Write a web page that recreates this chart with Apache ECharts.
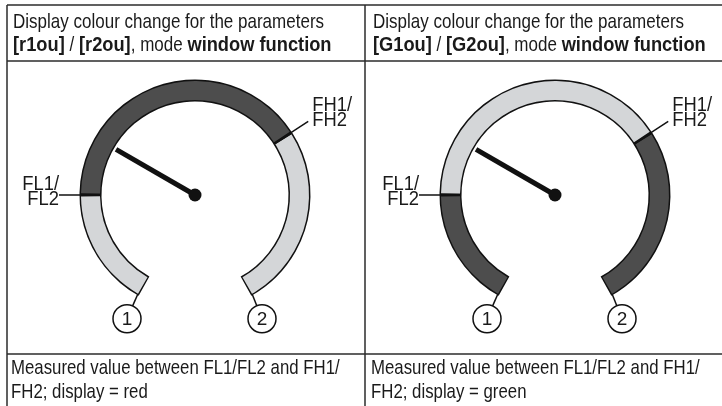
<!DOCTYPE html>
<html>
<head>
<meta charset="utf-8">
<script src="https://cdn.jsdelivr.net/npm/echarts@6/dist/echarts.min.js"></script>
<style>
html, body { margin: 0; padding: 0; background: #fff; }
#chart { width: 722px; height: 406px; }
</style>
</head>
<body>
<div id="chart"></div>
<script>
// scale of both dials
const scaleMin = 0
const scaleMax = 100
// switch points on the scale
const lowLimit = 20    // FL1/FL2
const highLimit = 69   // FH1/FH2
// needle position per panel
const measured = [30, 30]
// band colours per panel: below FL, window, above FH
const bandColours = [
    ['#d4d6d8', '#4d4d4d', '#d4d6d8'],
    ['#4d4d4d', '#d4d6d8', '#4d4d4d']
]
const paramNames = [['[r1ou]', '[r2ou]'], ['[G1ou]', '[G2ou]']]
const displayColours = ['red', 'green']
const lowLabel = ['FL1/', 'FL2']
const highLabel = ['FH1/', 'FH2']
const endLabels = ['1', '2']

const FONT = '"Liberation Sans", Arial, sans-serif'
const INK = '#1a1a1a'
const NARROW = 0.81       // the source uses a condensed face
const NARROW_BOLD = 0.87
const START = 240, END = -60
const R = 114, BAND = 19
const centers = [[195, 195], [555, 195]]

const chart = echarts.init(document.getElementById('chart'))
const ctx = document.createElement('canvas').getContext('2d')
const textWidth = (t, font) => { ctx.font = font; return ctx.measureText(t).width }

// value -> point on a circle of the dial
const pt = (c, r, v) => {
    const a = (START - (v - scaleMin) / (scaleMax - scaleMin) * (START - END)) * Math.PI / 180
    return [c[0] + r * Math.cos(a), c[1] - r * Math.sin(a)]
}

const series = []
const graphic = []

// table lines
const tableLines = [
    [7, 5, 722, 5], [7, 61, 722, 61], [7, 354, 722, 354],
    [7, 5, 7, 406], [365, 5, 365, 406]
]
tableLines.forEach(l => graphic.push({
    type: 'line', shape: { x1: l[0], y1: l[1], x2: l[2], y2: l[3] },
    style: { stroke: '#2b2b2b', lineWidth: 1.5 }
}))

centers.forEach((c, i) => {
    const e = 0.0025
    const cols = bandColours[i]
    const f1 = (lowLimit - scaleMin) / (scaleMax - scaleMin)
    const f2 = (highLimit - scaleMin) / (scaleMax - scaleMin)
    const off = { axisTick: { show: false }, splitLine: { show: false }, axisLabel: { show: false },
        title: { show: false }, detail: { show: false } }
    // black outline under the band
    series.push(Object.assign({
        type: 'gauge', center: c, radius: R + 1.5, min: scaleMin, max: scaleMax,
        startAngle: START + 0.8, endAngle: END - 0.8,
        axisLine: { lineStyle: { width: BAND + 3, color: [[1, '#111']] } },
        pointer: { show: false }, anchor: { show: false }, data: []
    }, off))
    // coloured band with the needle
    series.push(Object.assign({
        type: 'gauge', center: c, radius: R, min: scaleMin, max: scaleMax,
        startAngle: START, endAngle: END,
        axisLine: { lineStyle: { width: BAND, color: [
            [f1 - e, cols[0]], [f1 + e, '#111'], [f2 - e, cols[1]], [f2 + e, '#111'], [1, cols[2]]
        ] } },
        pointer: { show: true, icon: 'rect', length: '80%', width: 5, itemStyle: { color: '#111' } },
        anchor: { show: true, size: 13, showAbove: true, itemStyle: { color: '#111' } },
        data: [{ value: measured[i] }]
    }, off))

    // FL leader + label
    const a1 = pt(c, R, lowLimit), a2 = pt(c, R + 22, lowLimit)
    graphic.push({ type: 'line', shape: { x1: a1[0], y1: a1[1], x2: a2[0], y2: a2[1] },
        style: { stroke: '#111', lineWidth: 1.5 } })
    graphic.push({ type: 'text', x: a2[0], y: a2[1] - 18, scaleX: 0.92, style: {
        text: lowLabel.join('\n'), font: '20px ' + FONT, fill: INK, align: 'right',
        lineHeight: 15 } })
    // FH leader + label
    const b1 = pt(c, R, highLimit), b2 = pt(c, R + 21, highLimit)
    graphic.push({ type: 'line', shape: { x1: b1[0], y1: b1[1], x2: b2[0], y2: b2[1] },
        style: { stroke: '#111', lineWidth: 1.5 } })
    graphic.push({ type: 'text', x: b2[0] + 4, y: b2[1] - 23, scaleX: 0.92, style: {
        text: highLabel.join('\n'), font: '20px ' + FONT, fill: INK, align: 'left',
        lineHeight: 15 } })
    // numbered ends
    ;[scaleMin, scaleMax].forEach((v, k) => {
        const p = pt(c, R, v)
        const cc = [p[0] + (k ? 10 : -11), p[1] + 25]
        const d = Math.hypot(p[0] - cc[0], p[1] - cc[1])
        const q = [cc[0] + (p[0] - cc[0]) * 14 / d, cc[1] + (p[1] - cc[1]) * 14 / d]
        graphic.push({ type: 'line', shape: { x1: p[0], y1: p[1], x2: q[0], y2: q[1] },
            style: { stroke: '#111', lineWidth: 1.5 } })
        graphic.push({ type: 'circle', shape: { cx: cc[0], cy: cc[1], r: 14 },
            style: { fill: '#fff', stroke: '#111', lineWidth: 1.5 } })
        graphic.push({ type: 'text', x: cc[0], y: cc[1] + 1, style: {
            text: endLabels[k], font: '19px ' + FONT, fill: INK, align: 'center', verticalAlign: 'middle' } })
    })

    // header and footer text
    const x0 = i ? 373 : 13
    graphic.push({ type: 'text', x: x0, y: 12, scaleX: NARROW, style: {
        text: 'Display colour change for the parameters', font: '21px ' + FONT, fill: INK } })
    // second header line: bold and plain pieces side by side
    const pieces = [[paramNames[i][0], 1], [' / ', 0], [paramNames[i][1], 1], [', mode ', 0], ['window function', 1]]
    let px = x0
    pieces.forEach(([t, bold]) => {
        const font = (bold ? 'bold ' : '') + '21px ' + FONT
        const sx = bold ? NARROW_BOLD : NARROW
        graphic.push({ type: 'text', x: px, y: 35, scaleX: sx, style: { text: t, font: font, fill: INK } })
        px += textWidth(t, font) * sx
    })
    graphic.push({ type: 'text', x: x0 - 2, y: 356, scaleX: 0.8, style: {
        text: 'Measured value between FL1/FL2 and FH1/\nFH2; display = ' + displayColours[i],
        font: '21px ' + FONT, fill: INK, lineHeight: 24 } })
})

chart.setOption({ animation: false, series: series, graphic: graphic })
</script>
</body>
</html>
